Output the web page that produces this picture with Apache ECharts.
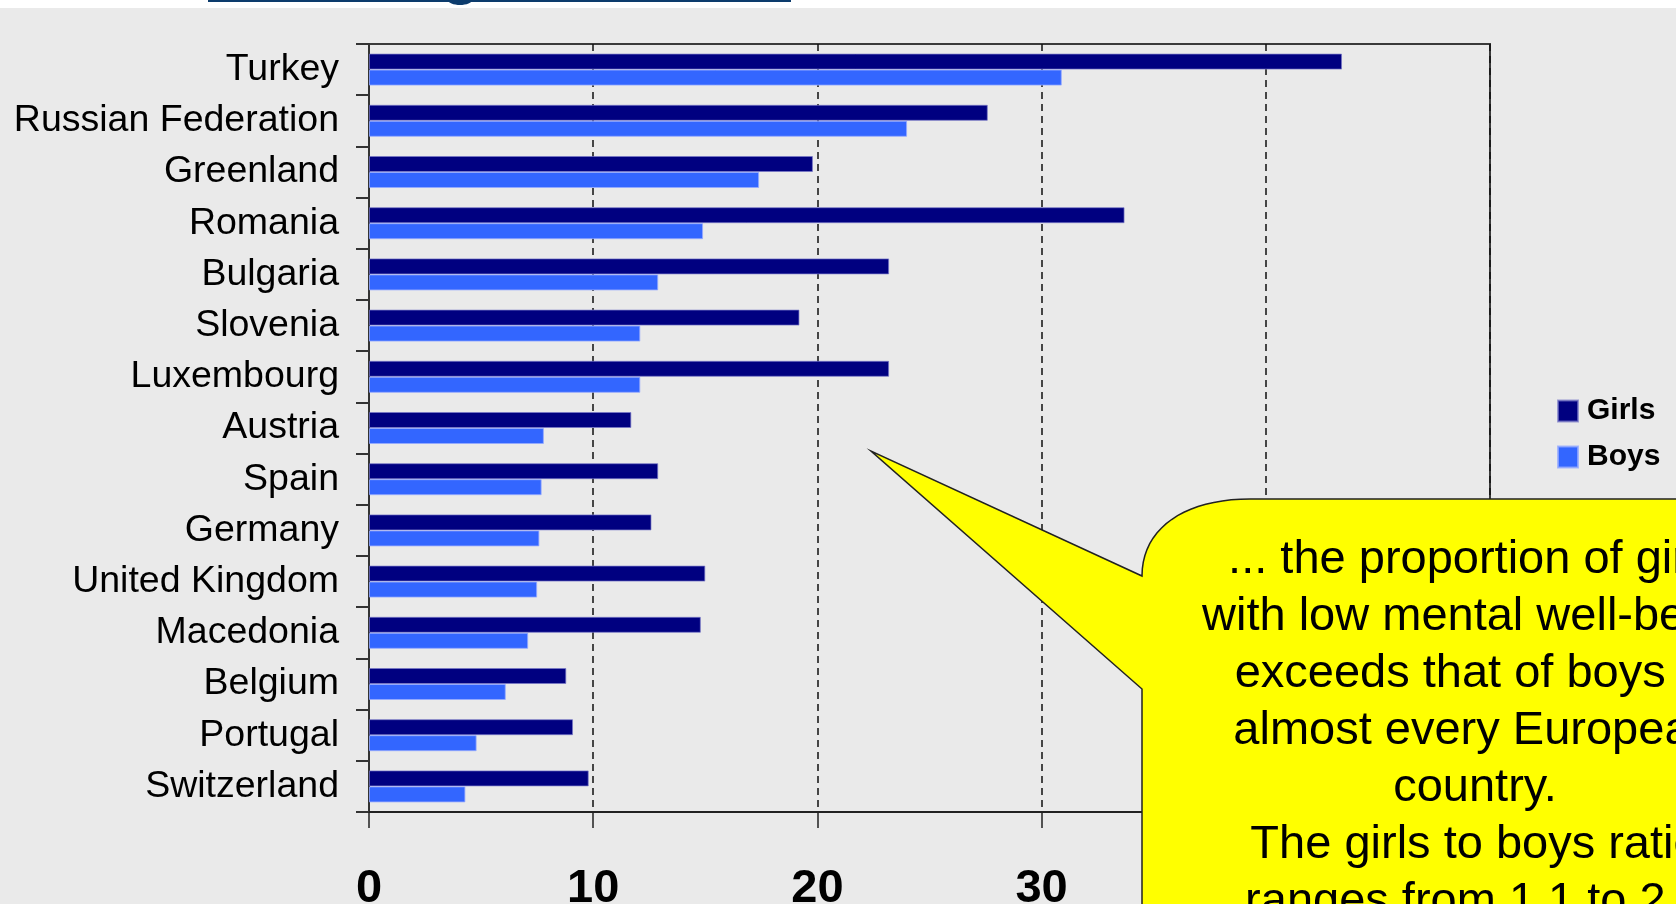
<!DOCTYPE html>
<html>
<head>
<meta charset="utf-8">
<title>Low mental well-being, girls and boys</title>
<script src="https://cdn.jsdelivr.net/npm/echarts@6/dist/echarts.min.js"></script>
<style>
  html, body { margin: 0; padding: 0; background: #eaeaea; }
  #chart { width: 1676px; height: 904px; }
</style>
</head>
<body>
<div id="chart"></div>
<script>
// 国家（从上到下）
let countries = ['Turkey', 'Russian Federation', 'Greenland', 'Romania', 'Bulgaria', 'Slovenia',
    'Luxembourg', 'Austria', 'Spain', 'Germany', 'United Kingdom', 'Macedonia',
    'Belgium', 'Portugal', 'Switzerland'];
// 百分比
let girls = [43.4, 27.6, 19.8, 33.7, 23.2, 19.2, 23.2, 11.7, 12.9, 12.6, 15.0, 14.8, 8.8, 9.1, 9.8];
let boys = [30.9, 24.0, 17.4, 14.9, 12.9, 12.1, 12.1, 7.8, 7.7, 7.6, 7.5, 7.1, 6.1, 4.8, 4.3];
let seriesNames = ['Girls', 'Boys'];
let xTicks = { min: 0, max: 50, step: 10 };
let noteLines = ['... the proportion of girls', 'with low mental well-being', 'exceeds that of boys in',
    'almost every European', 'country.', 'The girls to boys ratio', 'ranges from 1.1 to 2.3'];

let font = '"Liberation Sans", Arial, sans-serif';
let chart = echarts.init(document.getElementById('chart'));

// 对话框轮廓：左上角圆弧用贝塞尔取点
function calloutPoints() {
    let pts = [[1142, 960], [1142, 689], [871, 451], [1142, 576]];
    let p0 = [1142, 576], p1 = [1142, 528], p2 = [1185, 499], p3 = [1250, 499];
    for (let i = 1; i <= 20; i++) {
        let t = i / 20, u = 1 - t;
        pts.push([
            u * u * u * p0[0] + 3 * u * u * t * p1[0] + 3 * u * t * t * p2[0] + t * t * t * p3[0],
            u * u * u * p0[1] + 3 * u * u * t * p1[1] + 3 * u * t * t * p2[1] + t * t * t * p3[1]
        ]);
    }
    pts.push([1720, 499], [1720, 960]);
    return pts;
}

function halfEllipse(cx, cy, rx, ry) {
    let pts = [];
    for (let i = 0; i <= 16; i++) {
        let a = Math.PI * i / 16;
        pts.push([cx + rx * Math.cos(a), cy + ry * Math.sin(a)]);
    }
    return pts;
}

let option = {
    backgroundColor: '#eaeaea',
    animation: false,
    grid: {
        left: 369,
        right: 186,
        top: 44,
        bottom: 92,
        show: true,
        borderColor: '#3a3a3a',
        borderWidth: 2,
        backgroundColor: 'transparent',
        outerBoundsMode: 'none'
    },
    legend: {
        orient: 'vertical',
        left: 1557,
        top: 396,
        padding: 0,
        itemWidth: 20,
        itemHeight: 21,
        itemGap: 16,
        icon: 'rect',
        selectedMode: false,
        data: seriesNames,
        textStyle: {
            fontFamily: font,
            fontSize: 30,
            fontWeight: 'bold',
            color: '#000',
            padding: [0, 0, 0, 4]
        }
    },
    xAxis: {
        type: 'value',
        min: xTicks.min,
        max: xTicks.max,
        interval: xTicks.step,
        axisLine: { show: true, lineStyle: { color: '#222', width: 2 } },
        axisTick: { show: true, length: 16, lineStyle: { color: '#222', width: 1.5 } },
        axisLabel: {
            margin: 54,
            fontFamily: font,
            fontSize: 47,
            fontWeight: 'bold',
            color: '#000'
        },
        splitLine: {
            show: true,
            lineStyle: { color: '#111', width: 1.5, type: [7, 5] }
        }
    },
    yAxis: {
        type: 'category',
        inverse: true,
        data: countries,
        axisLine: { show: true, lineStyle: { color: '#333', width: 2 } },
        axisTick: { show: true, length: 13, lineStyle: { color: '#333', width: 2 } },
        axisLabel: {
            margin: 30,
            fontFamily: font,
            fontSize: 37.5,
            color: '#000',
            padding: [6, 0, 0, 0]
        },
        splitLine: { show: false }
    },
    series: [{
        name: seriesNames[0],
        type: 'bar',
        data: girls,
        barWidth: 16,
        barGap: '0%',
        itemStyle: { color: '#000080', borderColor: 'rgba(120,120,200,0.7)', borderWidth: 1 }
    }, {
        name: seriesNames[1],
        type: 'bar',
        data: boys,
        barWidth: 16,
        barGap: '0%',
        itemStyle: { color: '#3366ff', borderColor: 'rgba(150,170,255,0.8)', borderWidth: 1 }
    }],
    graphic: [
        // 顶部白条和标题下划线（标题已被裁掉）
        { type: 'rect', z: 50, shape: { x: 0, y: 0, width: 1676, height: 8 }, style: { fill: '#ffffff' } },
        { type: 'rect', z: 51, shape: { x: 208, y: 0, width: 583, height: 2 }, style: { fill: '#0c3b6c' } },
        { type: 'polygon', z: 51, shape: { points: halfEllipse(460, 0, 12, 5) }, style: { fill: '#0c3b6c' } },
        // 黄色对话框
        {
            type: 'polygon',
            z: 100,
            shape: { points: calloutPoints() },
            style: { fill: '#ffff00', stroke: '#222', lineWidth: 1.5 }
        },
        {
            type: 'text',
            z: 101,
            style: {
                x: 1475,
                y: 532,
                text: noteLines.join('\n'),
                font: '47px ' + font,
                fill: '#000',
                align: 'center',
                verticalAlign: 'top',
                lineHeight: 57
            }
        }
    ]
};

chart.setOption(option);
</script>
</body>
</html>
